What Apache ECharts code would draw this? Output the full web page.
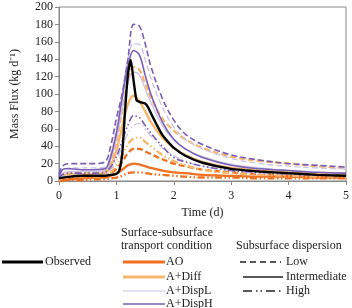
<!DOCTYPE html>
<html><head><meta charset="utf-8">
<script src="https://cdn.jsdelivr.net/npm/echarts@6/dist/echarts.min.js"></script>
<style>html,body{margin:0;padding:0;background:#fff}#c{width:352px;height:308px}</style>
</head><body><div id="c"></div>
<script>
// time (d) for simulated curves
var simTime = [0, 0.05, 0.1, 0.2, 0.4, 0.6, 0.8, 0.9, 1.0, 1.1, 1.2, 1.3, 1.4, 1.5, 1.6, 1.8, 2.0, 2.2, 2.5, 3.0, 3.5, 4.0, 4.5, 5.0];
// AO
var aoLow  = [0, 1, 2, 3, 4, 5, 6, 9, 14, 22, 32, 37, 37, 34, 31, 25, 20, 17, 13, 10, 8, 7, 6, 6];
var aoInt  = [0, 1, 1, 2, 3, 4, 4, 6, 9, 13, 18, 20, 19, 17, 15, 12, 10, 9, 7, 6, 5, 5, 4, 4];
var aoHigh = [0, 0, 1, 1, 1, 2, 2, 3, 4, 6, 9, 10, 10, 9, 8, 7, 6, 5, 4, 4, 3, 3, 3, 3];
// A+Diff
var diffLow  = [3, 6, 8, 9, 10, 10, 11, 22, 45, 80, 115, 131, 128, 112, 96, 72, 58, 48, 38, 28, 23, 20, 17, 15];
var diffInt  = [2, 5, 7, 8, 8, 8, 9, 17, 35, 62, 88, 98, 92, 80, 68, 50, 38, 30, 22, 15, 12, 10, 9, 8];
var diffHigh = [1, 3, 4, 5, 5, 5, 6, 10, 18, 30, 42, 49, 50, 45, 40, 30, 23, 18, 13, 9, 7, 6, 5, 5];
// A+DispL
var displLow  = [5, 12, 14, 15, 15, 15, 16, 30, 60, 100, 140, 158, 157, 140, 118, 85, 62, 48, 37, 26, 20, 17, 15, 14];
var displInt  = [3, 8, 10, 11, 11, 11, 12, 24, 48, 82, 112, 125, 122, 106, 90, 64, 47, 37, 28, 19, 15, 12, 10, 9];
var displHigh = [2, 5, 6, 7, 7, 7, 8, 13, 24, 40, 55, 64, 66, 60, 52, 38, 29, 23, 17, 12, 9, 8, 7, 6];
// A+DispH
var disphLow  = [8, 16, 19, 20, 20, 20, 22, 40, 72, 100, 140, 180, 178, 158, 132, 95, 70, 54, 42, 30, 24, 20, 18, 16];
var disphInt  = [5, 12, 14, 14, 13, 13, 14, 28, 55, 95, 132, 150, 145, 122, 100, 68, 48, 37, 27, 18, 14, 12, 10, 9];
var disphHigh = [3, 7, 8, 9, 9, 9, 10, 16, 28, 46, 64, 75, 73, 64, 55, 40, 27, 22, 17, 12, 10, 8, 7, 6];
// Observed
var obsTime  = [0, 0.2, 0.4, 0.6, 0.8, 0.9, 1.0, 1.05, 1.1, 1.15, 1.2, 1.25, 1.3, 1.35, 1.4, 1.45, 1.5, 1.55, 1.6, 1.7, 1.8, 1.9, 2.0, 2.2, 2.5, 3.0, 3.5, 4.0, 4.5, 5.0];
var observed = [3, 5, 6, 6, 6, 7, 8, 12, 30, 80, 122, 139, 115, 93, 91, 90, 89, 85, 78, 65, 53, 45, 38, 29, 21, 14, 11, 9, 7, 6];

var xTicks = [0, 1, 2, 3, 4, 5];
var yTicks = [0, 20, 40, 60, 80, 100, 120, 140, 160, 180, 200];

var conditions = ['AO', 'A+Diff', 'A+DispL', 'A+DispH'];
var dispersions = ['Low', 'Intermediate', 'High'];

var colors = {'AO': '#f07020', 'A+Diff': '#f8b66a', 'A+DispL': '#cbc4e4', 'A+DispH': '#7a5eb6'};
var widths = {'AO': 2.3, 'A+Diff': 2.3, 'A+DispL': 1.3, 'A+DispH': 1.6};
var dashes = {'Low': [6, 3], 'Intermediate': 'solid', 'High': [7, 2.5, 1.5, 2.5, 1.5, 2.5]};
var simData = {
  'AO': [aoLow, aoInt, aoHigh],
  'A+Diff': [diffLow, diffInt, diffHigh],
  'A+DispL': [displLow, displInt, displHigh],
  'A+DispH': [disphLow, disphInt, disphHigh]
};

function zip(t, v) { return t.map(function (x, i) { return [x, v[i]]; }); }

var series = [];
conditions.forEach(function (c) {
  dispersions.forEach(function (d, j) {
    series.push({
      name: c + ' ' + d, type: 'line', showSymbol: false, smooth: 0.35,
      data: zip(simTime, simData[c][j]),
      lineStyle: {color: colors[c], width: widths[c], type: dashes[d]},
      z: 2
    });
  });
});
series.push({
  name: 'Observed', type: 'line', showSymbol: false, smooth: 0.2,
  data: zip(obsTime, observed),
  lineStyle: {color: '#000', width: 2.4}, z: 3
});

var FONT = 'Liberation Serif';
var FS = 12;
var txt = {fontFamily: FONT, fontSize: FS, fill: '#222'};
function T(x, y, s, align) {
  return {type: 'text', x: x, y: y, style: Object.assign({}, txt, {text: s, textAlign: align || 'left', textVerticalAlign: 'middle'})};
}
function L(x1, x2, y, color, w, dash) {
  return {type: 'line', shape: {x1: x1, y1: y, x2: x2, y2: y}, style: {stroke: color, lineWidth: w, lineDash: dash || null}};
}

var graphics = [
  L(2, 43, 262, '#000', 3), T(45, 262, 'Observed'),
  T(121, 233, 'Surface-subsurface'), T(121, 246, 'transport condition'),
  L(123, 165, 262, colors['AO'], 3), T(166, 262, 'AO'),
  L(123, 165, 277, colors['A+Diff'], 3), T(166, 277, 'A+Diff'),
  L(123, 165, 291, colors['A+DispL'], 1.2), T(166, 291, 'A+DispL'),
  L(123, 165, 304, colors['A+DispH'], 1.6), T(166, 304, 'A+DispH'),
  T(236, 246, 'Subsurface dispersion'),
  L(240, 281, 262, '#222', 1.5, [6, 4]), T(286, 262, 'Low'),
  L(243, 283, 277, '#222', 1.5), T(286, 277, 'Intermediate'),
  L(243, 281, 291, '#222', 1.5, [9, 4, 1.5, 3, 1.5, 4]), T(286, 291, 'High')
];

var chart = echarts.init(document.getElementById('c'), null, {renderer: 'canvas'});
chart.setOption({
  animation: false,
  backgroundColor: '#fff',
  textStyle: {fontFamily: FONT},
  grid: {left: 59, right: 4, top: 7, bottom: 127, show: true, borderColor: '#888', borderWidth: 1, containLabel: false},
  xAxis: {
    type: 'value', min: xTicks[0], max: xTicks[xTicks.length - 1], interval: 1,
    name: 'Time (d)', nameLocation: 'middle', nameGap: 20,
    nameTextStyle: {fontFamily: FONT, fontSize: FS, color: '#222'},
    axisLine: {show: true, lineStyle: {color: '#888'}},
    axisTick: {show: true, inside: false, length: 4, lineStyle: {color: '#888'}},
    axisLabel: {fontFamily: FONT, fontSize: FS, color: '#222', margin: 9},
    splitLine: {show: false}
  },
  yAxis: {
    type: 'value', min: yTicks[0], max: yTicks[yTicks.length - 1], interval: 20,
    name: 'Mass Flux (kg d\u207B\u00B9)', nameLocation: 'middle', nameGap: 38,
    nameTextStyle: {fontFamily: FONT, fontSize: FS, color: '#222'},
    axisLine: {show: true, lineStyle: {color: '#888'}},
    axisTick: {show: true, inside: false, length: 4, lineStyle: {color: '#888'}},
    axisLabel: {fontFamily: FONT, fontSize: FS, color: '#222', margin: 6},
    splitLine: {show: false}
  },
  series: series,
  graphic: graphics
});
</script></body></html>
